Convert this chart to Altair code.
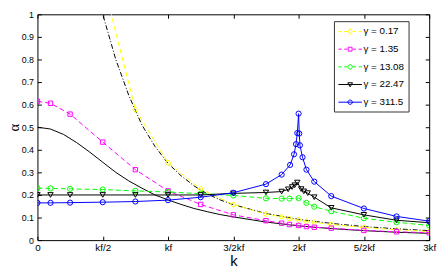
import json
import altair as alt
import pandas as pd

# ---------------- data ----------------
X_TICKS = [0, 0.5, 1, 1.5, 2, 2.5, 3]
X_LABELS = ["0", "kf/2", "kf", "3/2kf", "2kf", "5/2kf", "3kf"]
Y_TICKS = [0, 0.1, 0.2, 0.3, 0.4, 0.5, 0.6, 0.7, 0.8, 0.9, 1.0]

SERIES = ["γ = 0.17", "γ = 1.35", "γ = 13.08", "γ = 22.47", "γ = 311.5"]

K_G017 = [0.5, 0.75, 1.0, 1.25, 1.5, 1.75, 1.87, 1.93, 2.0, 2.06, 2.12, 2.25, 2.5, 2.75, 3.0]
A_G017 = [1.15, 0.578, 0.342, 0.226, 0.157, 0.115, 0.103, 0.095, 0.089, 0.083, 0.079, 0.069, 0.056, 0.046, 0.038]

K_G135 = [0, 0.1, 0.25, 0.5, 0.75, 1.0, 1.25, 1.5, 1.75, 1.87, 1.93, 2.0, 2.06, 2.12, 2.25, 2.5, 2.75, 3.0]
A_G135 = [0.615, 0.606, 0.558, 0.434, 0.312, 0.218, 0.158, 0.112, 0.086, 0.075, 0.069, 0.065, 0.06, 0.057, 0.053, 0.043, 0.037, 0.033]

K_G1308 = [0, 0.1, 0.25, 0.5, 0.75, 1.0, 1.25, 1.5, 1.75, 1.87, 1.93, 2.0, 2.06, 2.12, 2.25, 2.5, 2.75, 3.0]
A_G1308 = [0.23, 0.229, 0.227, 0.224, 0.218, 0.213, 0.206, 0.198, 0.185, 0.184, 0.184, 0.186, 0.165, 0.148, 0.128, 0.097, 0.079, 0.065]

K_G2247 = [0, 0.1, 0.25, 0.5, 0.75, 1.0, 1.25, 1.5, 1.75, 1.87, 1.92, 1.95, 1.97, 1.99, 2.02, 2.04, 2.07, 2.12, 2.25, 2.5, 2.75, 3.0]
A_G2247 = [0.2, 0.2, 0.2, 0.2, 0.2, 0.2, 0.2, 0.207, 0.211, 0.215, 0.225, 0.235, 0.243, 0.255, 0.226, 0.216, 0.208, 0.19, 0.143, 0.112, 0.088, 0.077]

K_G3115 = [0, 0.1, 0.25, 0.5, 0.75, 1.0, 1.25, 1.5, 1.75, 1.87, 1.935, 1.965, 1.98, 1.99, 2.0, 2.005, 2.01, 2.03, 2.06, 2.12, 2.25, 2.5, 2.75, 3.0]
A_G3115 = [0.165, 0.165, 0.166, 0.168, 0.171, 0.177, 0.19, 0.21, 0.248, 0.29, 0.333, 0.38, 0.425, 0.474, 0.56, 0.472, 0.42, 0.367, 0.312, 0.259, 0.195, 0.14, 0.105, 0.084]

# unmarked reference curves (no legend entry)
K_SOLID = [0, 0.1, 0.2, 0.3, 0.4, 0.5, 0.6, 0.7, 0.8, 0.9, 1.0, 1.1, 1.2, 1.3, 1.4, 1.5, 1.75, 2.0, 2.25, 2.5, 2.75, 3.0]
A_SOLID = [0.5, 0.492, 0.468, 0.432, 0.39, 0.345, 0.30, 0.262, 0.23, 0.2, 0.178, 0.158, 0.14, 0.126, 0.113, 0.103, 0.08, 0.063, 0.051, 0.042, 0.035, 0.03]

K_DASHDOT = [0.45, 0.5, 0.6, 0.7, 0.8, 0.9, 1.0, 1.1, 1.2, 1.3, 1.4, 1.5, 1.75, 2.0, 2.25, 2.5, 2.75, 3.0]
A_DASHDOT = [1.12, 1.0, 0.80, 0.64, 0.51, 0.415, 0.34, 0.285, 0.24, 0.205, 0.178, 0.157, 0.118, 0.092, 0.074, 0.06, 0.05, 0.042]

# ---------------- styles ----------------
COLORS = ["#ffff00", "#ff00ff", "#00ff00", "#000000", "#0000ff"]
SHAPES = ["diamond", "square", "circle", "triangle-down", "circle"]
SIZES = [32, 20, 28, 30, 28]
DASHES = [[5, 3], [5, 3], [5, 3], None, None]

DASHED_SEG = "M-1,0L-0.45,0M0,0L0.55,0M1.45,0L2,0M2.45,0L3,0"
SOLID_SEG = "M-1,0L3,0"
CIRCLE = "M0.63,0A0.37,0.37 0 1,0 1.37,0A0.37,0.37 0 1,0 0.63,0"
LEGEND_PATHS = [
    DASHED_SEG + "M1,-0.5L1.35,0L1,0.5L0.65,0Z",
    DASHED_SEG + "M0.67,-0.33L1.33,-0.33L1.33,0.33L0.67,0.33Z",
    DASHED_SEG + CIRCLE,
    SOLID_SEG + "M0.6,-0.3L1.4,-0.3L1,0.4Z",
    SOLID_SEG + CIRCLE,
]

KS = [K_G017, K_G135, K_G1308, K_G2247, K_G3115]
AS = [A_G017, A_G135, A_G1308, A_G2247, A_G3115]

rows = []
for name, ks, vals in zip(SERIES, KS, AS):
    rows += [{"series": name, "k": k, "alpha": a} for k, a in zip(ks, vals)]
rows += [{"series": "solid", "k": k, "alpha": a} for k, a in zip(K_SOLID, A_SOLID)]
rows += [{"series": "dashdot", "k": k, "alpha": a} for k, a in zip(K_DASHDOT, A_DASHDOT)]
df = pd.DataFrame(rows)

FONT = "Liberation Sans"
xs = alt.Scale(domain=[0, 3], nice=False, zero=False)
ys = alt.Scale(domain=[0, 1], nice=False, zero=False)

label_expr = json.dumps(X_LABELS) + "[round(datum.value*2)]"

x_main = alt.X("k:Q", scale=xs, axis=alt.Axis(
    orient="bottom", values=X_TICKS, labelExpr=label_expr, title="k",
    titleFont=FONT, titleFontSize=15, titleFontWeight="normal", titleColor="black",
    labelFont=FONT, labelFontSize=10, labelColor="black", labelFlush=False,
    labelPadding=3, titlePadding=1, tickSize=4, offset=-4, tickColor="black",
    domain=False, grid=False, labelOverlap=False))
y_main = alt.Y("alpha:Q", scale=ys, axis=alt.Axis(
    orient="left", values=Y_TICKS, format=".1~f", title="α",
    titleFont="Liberation Serif", titleFontSize=15, titleFontWeight="normal", titleColor="black",
    labelFont=FONT, labelFontSize=9, labelColor="black", labelFlush=False,
    labelPadding=4, titlePadding=0, tickSize=4, offset=-4, tickColor="black",
    domain=False, grid=False, labelOverlap=False))
x_top = alt.X("k:Q", scale=xs, axis=alt.Axis(
    orient="top", values=X_TICKS, labels=False, title=None, tickSize=4, offset=-4,
    tickColor="black", domain=False, grid=False))
y_right = alt.Y("alpha:Q", scale=ys, axis=alt.Axis(
    orient="right", values=Y_TICKS, labels=False, title=None, tickSize=4, offset=-4,
    tickColor="black", domain=False, grid=False))
x_none = alt.X("k:Q", scale=xs, axis=None)
y_none = alt.Y("alpha:Q", scale=ys, axis=None)

base = alt.Chart(df)
layers = []

layers.append(base.transform_filter(alt.datum.series == "solid")
              .mark_line(color="black", strokeWidth=1, clip=True)
              .encode(x=x_main, y=y_main))
layers.append(base.transform_filter(alt.datum.series == "dashdot")
              .mark_line(color="black", strokeWidth=1, clip=True, strokeDash=[5, 2, 1, 2])
              .encode(x=x_top, y=y_right))

for name, color, shape, size, dash in zip(SERIES, COLORS, SHAPES, SIZES, DASHES):
    d = base.transform_filter(alt.datum.series == name)
    kw = dict(color=color, strokeWidth=1, clip=True)
    if dash:
        kw["strokeDash"] = dash
    layers.append(d.mark_line(**kw).encode(x=x_none, y=y_none))
    layers.append(d.mark_point(shape=shape, color=color, size=size, filled=False,
                               strokeWidth=1, clip=True, opacity=1)
                  .encode(x=x_none, y=y_none))

leg = alt.Legend(title=None, orient="none", legendX=302, legendY=7,
                 symbolSize=144, symbolStrokeWidth=1, symbolFillColor="transparent",
                 labelFont=FONT, labelFontSize=10, labelColor="black", labelOffset=13,
                 labelExpr="datum.label + '    '",
                 padding=4, rowPadding=6, strokeColor="#333333", fillColor="white")
legend_layer = (base.transform_filter("false")
                .mark_point(filled=False, strokeWidth=1, opacity=1)
                .encode(color=alt.Color("series:N", scale=alt.Scale(domain=SERIES, range=COLORS), legend=leg),
                        shape=alt.Shape("series:N", scale=alt.Scale(domain=SERIES, range=LEGEND_PATHS), legend=leg)))
layers.append(legend_layer)

chart = (alt.layer(*layers)
         .properties(width=399, height=230,
                     padding={"left": 30, "top": 4, "right": 10, "bottom": 28},
                     autosize=alt.AutoSizeParams(type="none"),
                     background="white")
         .configure_view(stroke="black", strokeWidth=1))

chart.save("out.html", embed_options={"renderer": "svg", "actions": False})
